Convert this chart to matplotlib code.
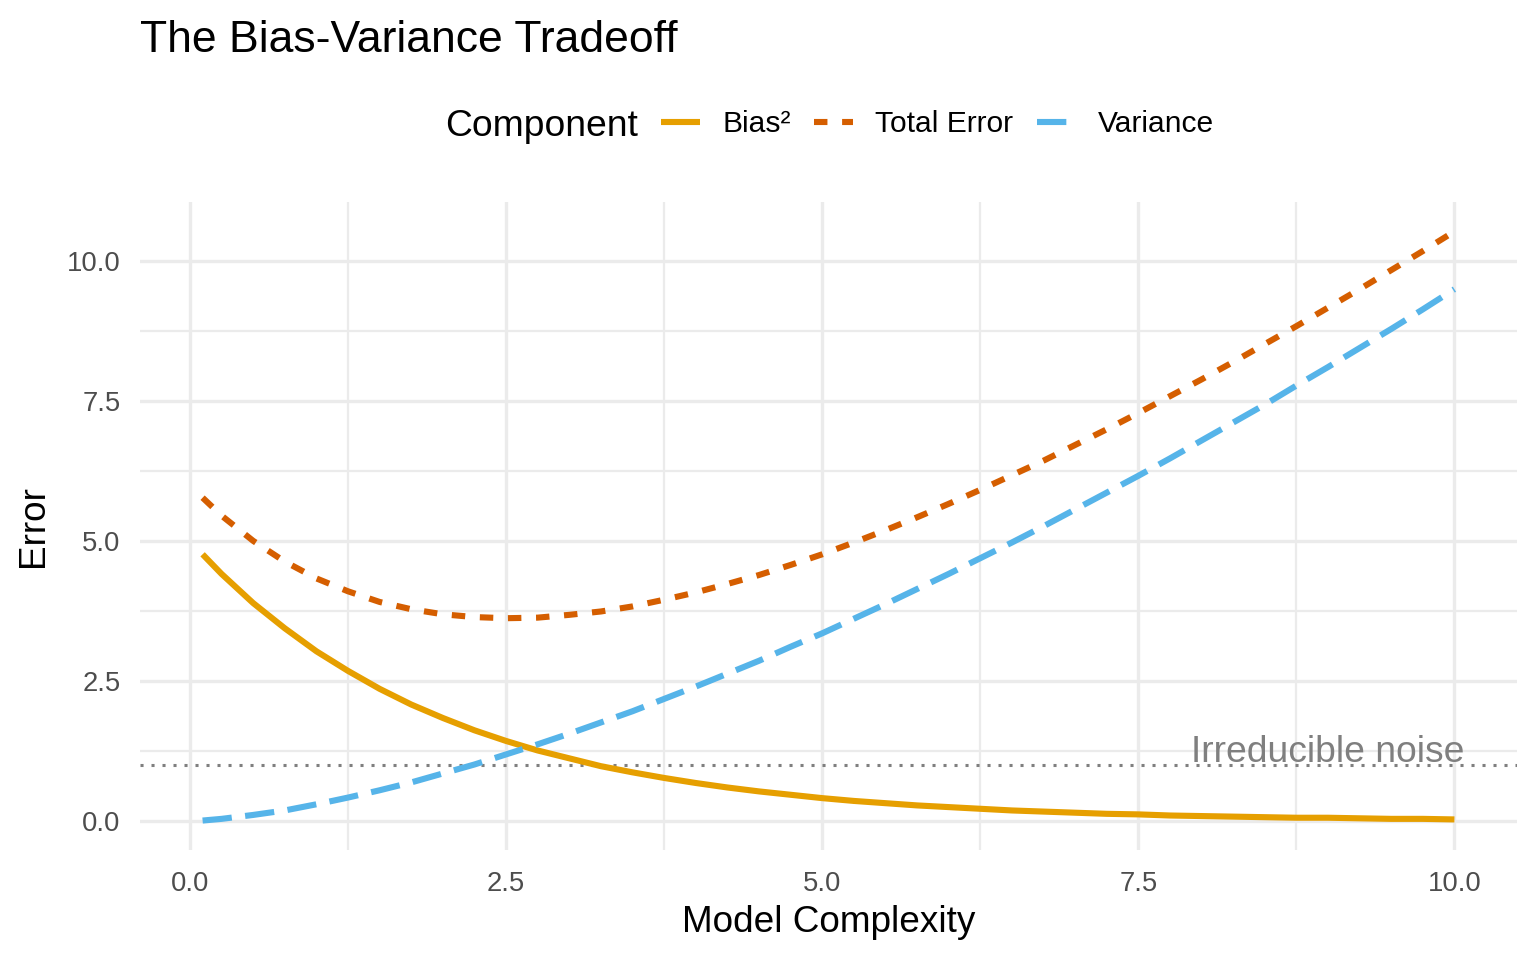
import matplotlib
matplotlib.use("Agg")
import matplotlib.pyplot as plt
from matplotlib.lines import Line2D
from matplotlib.ticker import MultipleLocator

# values
complexity = [0.1, 0.25, 0.5, 0.75, 1.0, 1.25, 1.5, 1.75, 2.0, 2.25, 2.5,
              2.75, 3.0, 3.25, 3.5, 3.75, 4.0, 4.25, 4.5, 4.75, 5.0,
              5.25, 5.5, 5.75, 6.0, 6.25, 6.5, 6.75, 7.0, 7.25, 7.5,
              7.75, 8.0, 8.25, 8.5, 8.75, 9.0, 9.25, 9.5, 9.75, 10.0]
bias_sq = [4.76, 4.41, 3.89, 3.44, 3.03, 2.68, 2.36, 2.08, 1.84, 1.62, 1.43,
           1.26, 1.12, 0.98, 0.87, 0.77, 0.68, 0.60, 0.53, 0.47, 0.41,
           0.36, 0.32, 0.28, 0.25, 0.22, 0.19, 0.17, 0.15, 0.13, 0.12,
           0.10, 0.09, 0.08, 0.07, 0.06, 0.06, 0.05, 0.04, 0.04, 0.03]
variance = [0.01, 0.04, 0.11, 0.19, 0.30, 0.42, 0.55, 0.69, 0.85, 1.01, 1.19,
            1.37, 1.56, 1.76, 1.96, 2.18, 2.40, 2.63, 2.86, 3.11, 3.35,
            3.61, 3.87, 4.14, 4.41, 4.69, 4.97, 5.26, 5.56, 5.86, 6.16,
            6.47, 6.79, 7.11, 7.43, 7.77, 8.10, 8.44, 8.78, 9.13, 9.49]
total_error = [5.77, 5.45, 5.00, 4.63, 4.33, 4.10, 3.91, 3.78, 3.69, 3.64, 3.62,
               3.63, 3.68, 3.74, 3.83, 3.95, 4.08, 4.23, 4.39, 4.57, 4.76,
               4.97, 5.19, 5.42, 5.66, 5.91, 6.17, 6.43, 6.71, 6.99, 7.28,
               7.58, 7.88, 8.19, 8.51, 8.83, 9.16, 9.49, 9.83, 10.17, 10.52]
noise_level = 1.0
noise_label_x = 9.0

labels = ["Bias²", "Total Error", "Variance"]
colors = ["#E69F00", "#D55E00", "#56B4E9"]
dashes = [None, (2.2, 2.4), (4.8, 2.2)]

plt.rcParams["font.family"] = ["Liberation Sans", "DejaVu Sans"]

LW = 2.2


def padded(lo, hi, frac=0.05):
    span = hi - lo
    return lo - span * frac, hi + span * frac


def main():
    fig = plt.figure(figsize=(7.68, 4.8), dpi=200)
    ax = fig.add_axes([140 / 1536, 1 - 850 / 960, 1377 / 1536, 648 / 960])

    series = [bias_sq, total_error, variance]
    for ys, color, dash in zip(series, colors, dashes):
        line, = ax.plot(complexity, ys, color=color, lw=LW, solid_capstyle="butt",
                        dash_capstyle="butt")
        if dash:
            line.set_dashes(dash)

    ax.axhline(noise_level, color="#7F7F7F", lw=1.1, dashes=(1, 2.6),
               dash_capstyle="butt", zorder=1)
    ax.text(noise_label_x, noise_level + 0.05, "Irreducible noise", color="#7F7F7F",
            fontsize=13.4, ha="center", va="baseline")

    all_y = bias_sq + variance + total_error + [noise_level]
    ax.set_xlim(*padded(min(complexity), max(complexity)))
    ax.set_ylim(*padded(min(all_y), max(all_y)))

    for axis in (ax.xaxis, ax.yaxis):
        axis.set_major_locator(MultipleLocator(2.5))
        axis.set_minor_locator(MultipleLocator(1.25))
    ax.xaxis.set_major_formatter(lambda v, p: f"{v:.1f}")
    ax.yaxis.set_major_formatter(lambda v, p: f"{v:.1f}")

    ax.grid(which="major", color="#EBEBEB", lw=1.2)
    ax.grid(which="minor", color="#EBEBEB", lw=0.8)
    ax.set_axisbelow(True)
    for s in ax.spines.values():
        s.set_visible(False)
    ax.tick_params(which="both", length=0, labelsize=9.9, labelcolor="#4D4D4D")
    ax.tick_params(axis="y", pad=7.0)
    ax.tick_params(axis="x", pad=7.5)

    ax.set_xlabel("Model Complexity", fontsize=13.3)
    ax.set_ylabel("Error", fontsize=13.3)
    ax.xaxis.set_label_coords(0.5, (850 - 932) / 648)
    ax.xaxis.label.set_verticalalignment("baseline")
    ax.yaxis.set_label_coords((43 - 140) / 1377, 0.5)
    ax.yaxis.label.set_verticalalignment("baseline")

    fig.text(140 / 1536, 1 - 52 / 960, "The Bias-Variance Tradeoff",
             fontsize=16.0, va="baseline")

    fig.text(445 / 1536, 1 - 136 / 960, "Component", fontsize=13.4, va="baseline")
    handles = []
    for color, dash in zip(colors, dashes):
        h = Line2D([], [], color=color, lw=LW, solid_capstyle="butt",
                   dash_capstyle="butt")
        if dash:
            h.set_dashes(dash)
        handles.append(h)
    fig.legend(handles, labels, ncol=3, loc="center left",
               bbox_to_anchor=(661 / 1536, 1 - 124 / 960), frameon=False,
               fontsize=10.8, borderpad=0, borderaxespad=0, handlelength=1.3,
               handletextpad=0.74, columnspacing=0.78)

    fig.savefig("out.png", dpi=200)


if __name__ == "__main__":
    main()
